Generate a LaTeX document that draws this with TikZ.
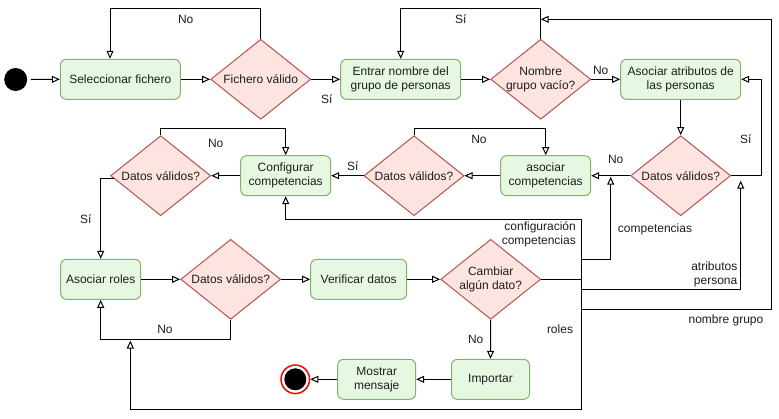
\documentclass[tikz,border=0pt]{standalone}
\usepackage{fontspec}
\setmainfont{Liberation Sans}
\usetikzlibrary{shapes.geometric,arrows.meta}
\definecolor{gfill}{RGB}{230,247,226}
\definecolor{gline}{RGB}{130,179,102}
\definecolor{rfill}{RGB}{253,228,225}
\definecolor{rline}{RGB}{184,84,80}
\definecolor{txt}{RGB}{30,30,30}
\begin{document}
\begin{tikzpicture}[x=1pt,y=-1pt,
  font=\fontsize{12}{14}\selectfont,
  act/.style={rectangle, rounded corners=6pt, draw=gline, fill=gfill, line width=1pt,
    minimum height=40pt, align=center, inner sep=0pt, text=txt},
  dec/.style={diamond, draw=rline, fill=rfill, line width=1pt,
    minimum width=100pt, minimum height=80pt, inner sep=0pt},
  dtext/.style={align=center, text=txt, inner sep=0pt},
  arr/.style={draw=black, line width=1pt, -{Triangle[open,length=8pt,width=7pt]}},
  ln/.style={draw=black, line width=1pt},
  lbl/.style={align=center, inner sep=0pt, text=txt},
]
\fill[white] (0,0) rectangle (779,418);
\useasboundingbox (0,0) rectangle (779,418);

% nodes
\node[circle, fill=black, minimum size=23pt, inner sep=0pt] (start) at (15.7,79.5) {};
\node[act, minimum width=120pt] (sel) at (120.3,79.3) {Seleccionar fichero};
\node[dec, label={[dtext,name=fvt]center:Fichero válido}] (fv) at (260.7,79.3) {};
\node[act, minimum width=120pt] (ent) at (400.7,79.3) {Entrar nombre del\\grupo de personas};
\node[dec, label={[dtext,name=ngvt]center:{Nombre\\grupo vacío?}}] (ngv) at (540.7,79.3) {};
\node[act, minimum width=120pt] (atr) at (680.7,79.3) {Asociar atributos de\\las personas};

\node[dec, label={[dtext,name=d3t]center:Datos válidos?}] (d3) at (680.7,175.7) {};
\node[act, minimum width=90pt] (acomp) at (545.7,175.7) {asociar\\competencias};
\node[dec, label={[dtext,name=d2t]center:Datos válidos?}] (d2) at (414,175.7) {};
\node[act, minimum width=90pt] (conf) at (285.7,175.7) {Configurar\\competencias};
\node[dec, label={[dtext,name=d1t]center:Datos válidos?}] (d1) at (160.7,175.7) {};

\node[act, minimum width=80pt] (roles) at (100.7,279.3) {Asociar roles};
\node[dec, label={[dtext,name=d4t]center:Datos válidos?}] (d4) at (230.7,279.3) {};
\node[act, minimum width=96pt] (ver) at (358.7,279.3) {Verificar datos};
\node[dec, label={[dtext,name=cambt]center:{Cambiar\\algún dato?}}] (camb) at (490.7,279.3) {};

\node[act, minimum width=78pt] (imp) at (490.5,379.3) {Importar};
\node[act, minimum width=78pt] (most) at (376.7,379.3) {Mostrar\\mensaje};
\node[circle, draw=red, line width=1.5pt, fill=white, minimum size=28.5pt, inner sep=0pt] (end) at (295.3,379.3) {};
\node[circle, fill=black, minimum size=22pt, inner sep=0pt] (endc) at (295.3,379.3) {};

% free ends of return connectors
\coordinate (cmpT) at (610.7,176.7);
\coordinate (atT) at (740.7,180.7);
\coordinate (ngT) at (540.7,19.3);
\coordinate (rT) at (130.3,340.5);

% connectors
\draw[arr, shorten <=3.5pt] (start.east) -- (sel.west);
\draw[arr] (sel.east) -- (fv.west);
\draw[arr] (fv.north) -- ++(0,-30) -| ([xshift=-10.3pt]sel.north);
\draw[arr] (fv.east) -- (ent.west);
\draw[arr] (ent.east) -- (ngv.west);
\draw[arr] (ngv.north) -- ++(0,-30) -| (ent.north);
\draw[arr] (ngv.east) -- (atr.west);
\draw[arr] (atr.south) -- (d3.north);
\draw[arr] (d3.east) -- ++(30,0) |- (atr.east);
\draw[arr] (d3.west) -- (acomp.east);
\draw[arr] (d2.north) -- ++(0,-6.4) -| (acomp.north);
\draw[arr] (acomp.west) -- (d2.east);
\draw[arr] (d2.west) -- (conf.east);
\draw[arr] (conf.west) -- (d1.east);
\draw[arr] (d1.north) -- ++(0,-6.4) -| (conf.north);
\draw[arr] (d1.184) -| (roles.north);
\draw[arr] (roles.east) -- (d4.west);
\draw[arr] (d4.south) -- ++(0,20) -| (roles.south);
\draw[arr] (d4.east) -- (ver.west);
\draw[arr] (ver.east) -- (camb.west);
\draw[arr] (camb.south) -- (imp.north);
\draw[arr] (imp.west) -- (most.east);
\draw[arr] (most.west) -- (end.east);

\draw[arr] (camb.east) -- ++(40,0) -- ++(0,-60) -| (conf.south);
\draw[arr] (camb.east) -- ++(40,0) -- ++(0,-20) -| (cmpT);
\draw[arr] (camb.east) -- ++(40,0) -- ++(0,10) -| (atT);
\draw[arr] (camb.east) -- ++(40,0) -- ++(0,30) -- ++(190,0) |- (ngT);
\draw[arr] (camb.east) -- ++(40,0) -- ++(0,130) -| (rT);

% labels
\node[lbl] (l1) at (185.7,19) {No};
\node[lbl] (l2) at (326.7,99) {Sí};
\node[lbl] (l3) at (460.7,19) {Sí};
\node[lbl] (l4) at (600.7,70) {No};
\node[lbl] (l5) at (745.7,139.3) {Sí};
\node[lbl] (l6) at (615.7,159.3) {No};
\node[lbl] (l7) at (479,139) {No};
\node[lbl] (l8) at (352.7,165.7) {Sí};
\node[lbl] (l9) at (215.7,143.3) {No};
\node[lbl] (l10) at (85.7,219.3) {Sí};
\node[lbl] (l11) at (165,329) {No};
\node[lbl] (l12) at (475.7,339.3) {No};
\node[lbl, align=right, anchor=east] (l13) at (576,234.7) {configuración\\competencias};
\node[lbl] (l14) at (655,229.3) {competencias};
\node[lbl, align=right, anchor=east] (l15) at (737.5,274.2) {atributos\\persona};
\node[lbl] (l16) at (726,320) {nombre grupo};
\node[lbl] (l17) at (560,329.3) {roles};
\end{tikzpicture}
\end{document}
